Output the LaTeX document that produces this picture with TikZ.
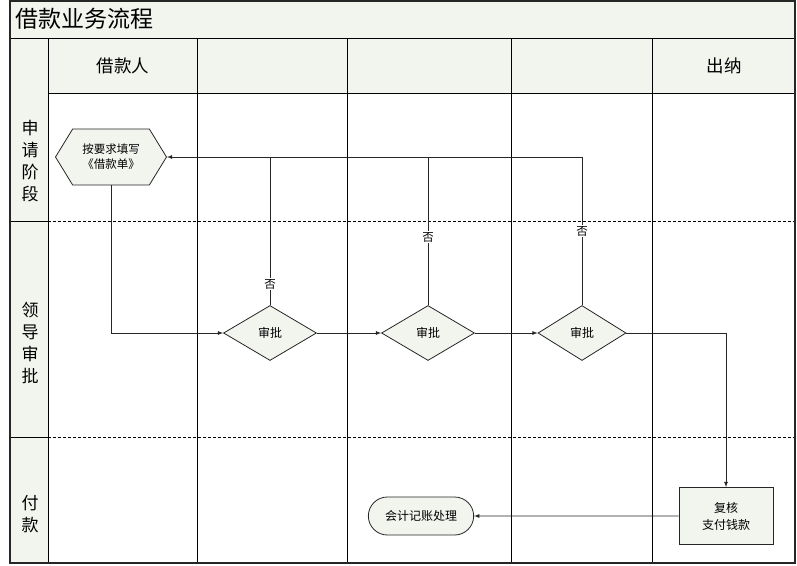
\documentclass[tikz,border=0pt]{standalone}
\usepackage{fontspec}
\setmainfont{Noto Sans CJK SC}
\usetikzlibrary{shapes.geometric,shapes.misc,shapes.symbols}
\definecolor{paper}{RGB}{242,244,238}

\begin{document}
\begin{tikzpicture}[x=1pt,y=-1pt,line width=0.8pt,
	hexbox/.style={signal,signal to=east and west,signal pointer angle=117,draw=black!85,fill=paper,minimum width=111pt,minimum height=56pt,inner sep=0pt,align=center,font=\fontsize{11.5}{15}\selectfont},
	decide/.style={diamond,draw=black!85,fill=paper,minimum width=93pt,minimum height=55pt,inner sep=0pt,font=\fontsize{12}{14}\selectfont},
	taskbox/.style={rectangle,draw=black!85,fill=paper,minimum width=94pt,minimum height=57pt,align=center,font=\fontsize{12}{17}\selectfont},
	endbox/.style={rounded rectangle,draw=black!85,fill=paper,minimum width=112pt,minimum height=38pt,font=\fontsize{12}{14}\selectfont},
	flow/.style={draw=black!85,-latex},
	no/.style={fill=white,inner sep=1pt,font=\fontsize{11.5}{12}\selectfont}]
	\useasboundingbox (0,0) rectangle (797,565);
	\fill[paper] (10,1) rectangle (795,93);
	\fill[paper] (10,93) rectangle (48,563);
	\foreach \x in {48,197,347,511,652} {
		\draw (\x,38) -- (\x,563);
	}
	\draw (10,38) -- (795,38);
	\draw (48,93) -- (795,93);
	\foreach \y in {221,437} {
		\draw (10,\y) -- (48,\y);
		\draw[densely dashed] (48,\y) -- (795,\y);
	}
	\draw[line width=1.6pt,black!85] (10,1) rectangle (795,563);
	\node[anchor=west,font=\fontsize{23}{23}\selectfont] (title) at (12,19) {借款业务流程};
	\node[font=\fontsize{17.5}{17.5}\selectfont] (who1) at (123,66) {借款人};
	\node[font=\fontsize{17.5}{17.5}\selectfont] (who5) at (724,66) {出纳};
	\foreach \y/\t [count=\i] in {161/申\\请\\阶\\段,343/领\\导\\审\\批,514/付\\款} {
		\node[align=center,font=\fontsize{17}{22}\selectfont] (lane\i) at (30,\y) {\t};
	}
	\node[hexbox] (fill) at (111,157) {按要求填写\\《借款单》};
	\node[decide] (ok1) at (270,333) {审批};
	\node[decide] (ok2) at (428,333) {审批};
	\node[decide,minimum width=88pt] (ok3) at (582,333) {审批};
	\node[taskbox] (pay) at (726,516) {复核\\支付钱款};
	\node[endbox] (book) at (421,516) {会计记账处理};
	\draw[flow] (fill.south) |- (ok1.west);
	\draw[flow] (ok1) -- (ok2);
	\draw[flow] (ok2) -- (ok3);
	\draw[flow] (ok3.east) -| (pay.north);
	\draw[flow] (pay) -- (book);
	\draw[flow] (ok3.north) |- node[no,pos=0.25]{否} (fill.east);
	\draw[draw=black!85] (ok2.north) -- node[no,pos=0.46]{否} (ok2.north |- fill.east);
	\draw[draw=black!85] (ok1.north) -- node[no,pos=0.14]{否} (ok1.north |- fill.east);
\end{tikzpicture}
\end{document}
